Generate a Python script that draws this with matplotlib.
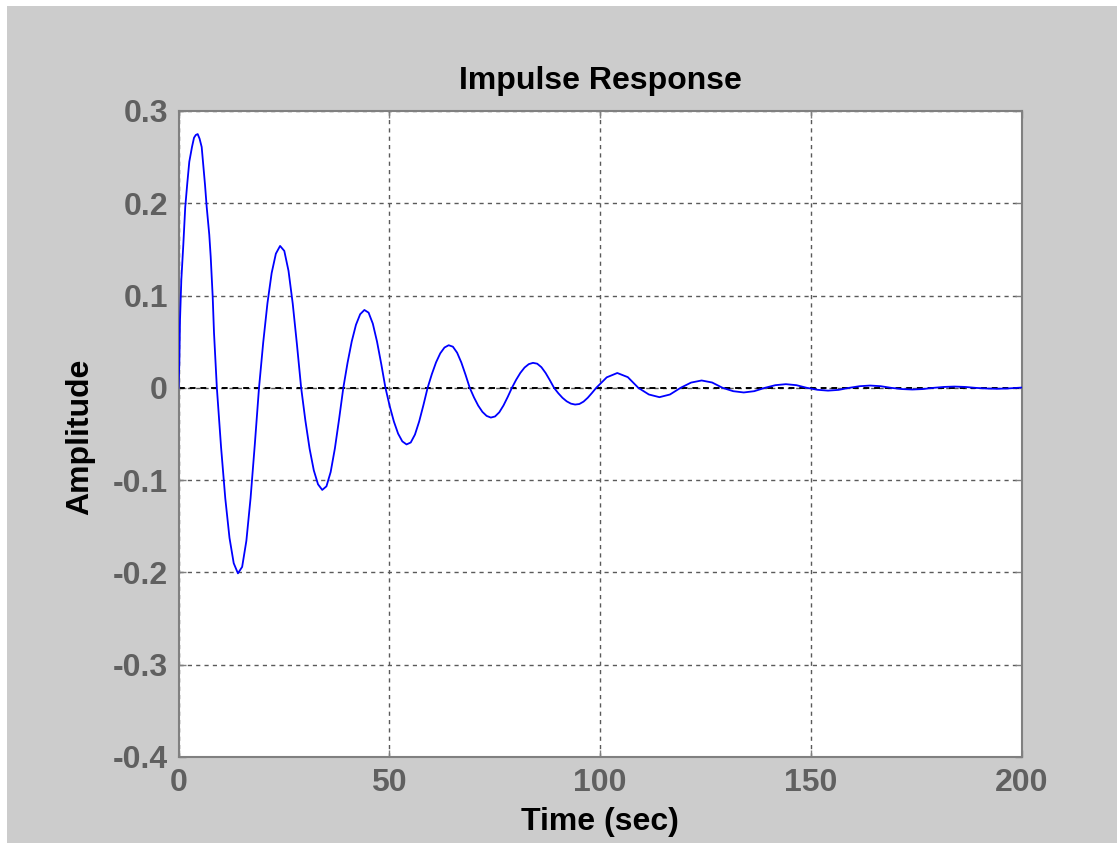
import matplotlib.pyplot as plt
from matplotlib.patches import Rectangle

# time (sec) and amplitude
time_first = [0, 0.2, 0.36, 0.67, 1.14, 1.6, 2.09, 2.56, 3.2, 3.68, 4.1, 4.55, 5.0,
              5.5, 5.88, 6.29, 6.69, 7.3, 7.64, 8.11, 8.42, 8.85]
amp_first = [0, 0.027, 0.074, 0.117, 0.155, 0.196, 0.222, 0.245, 0.261, 0.271, 0.274, 0.275, 0.270,
             0.261, 0.241, 0.220, 0.196, 0.166, 0.142, 0.099, 0.060, 0.022]

# 9.1 s to 98.1 s, one reading per second
time_mid = [9.1 + i for i in range(90)]
amp_mid = [
    0, -.0644, -.1198, -.1626, -.1900, -.2010, -.1940, -.1658, -.1194, -.0616,
    0, .0493, .0916, .1244, .1454, .1538, .1484, .1268, .0913, .0471,
    0, -.0354, -.0659, -.0894, -.1045, -.1106, -.1067, -.0912, -.0657, -.0339,
    0, .0270, .0503, .0683, .0798, .0844, .0815, .0696, .0501, .0259,
    0, -.0196, -.0365, -.0496, -.0580, -.0613, -.0592, -.0506, -.0364, -.0188,
    0, .0148, .0276, .0374, .0437, .0462, .0446, .0381, .0275, .0142,
    0, -.0103, -.0192, -.0260, -.0304, -.0322, -.0310, -.0265, -.0191, -.0099,
    0, .0087, .0162, .0220, .0257, .0271, .0262, .0224, .0161, .0083,
    0, -.0058, -.0108, -.0146, -.0171, -.0181, -.0175, -.0149, -.0107, -.0055,
]

# 99.1 s to 200 s, every 2.5 s (the tail is small)
time_tail = [99.1 + 2.5 * i for i in range(41)] + [200]
amp_tail = [
    0, .0114, .0161, .0116,
    0, -.0072, -.0101, -.0072,
    0, .0057, .0080, .0058,
    0, -.0036, -.0050, -.0036,
    0, .0029, .0040, .0029,
    0, -.0021, -.0030, -.0022,
    0, .0018, .0025, .0018,
    0, -.0013, -.0018, -.0013,
    0, .0010, .0014, .0010,
    0, -.0007, -.0010, -.0007,
    0, .0003,
]

time = time_first + time_mid + time_tail
amp = amp_first + amp_mid + amp_tail

x_ticks = [0, 50, 100, 150, 200]
y_ticks = [-0.4, -0.3, -0.2, -0.1, 0, 0.1, 0.2, 0.3]
y_tick_labels = ['-0.4', '-0.3', '-0.2', '-0.1', '0', '0.1', '0.2', '0.3']

plt.rcParams['font.family'] = ['Liberation Sans', 'DejaVu Sans']

W, H = 1117, 843
fig = plt.figure(figsize=(W / 100, H / 100), dpi=100, facecolor='#cccccc')

# thin white strips at the top and left edges of the screenshot
fig.patches.append(Rectangle((0, 1 - 6 / H), 1, 6 / H, transform=fig.transFigure,
                             facecolor='white', edgecolor='none'))
fig.patches.append(Rectangle((0, 0), 7 / W, 1, transform=fig.transFigure,
                             facecolor='white', edgecolor='none'))

ax = fig.add_axes([178.5 / W, 1 - 757 / H, 843 / W, 646 / H])
ax.set_facecolor('white')

ax.plot(time, amp, color='#0000ff', linewidth=1.3, zorder=3)
ax.axhline(0, color='black', linestyle=(0, (3, 2.5)), linewidth=1.4, zorder=2)

ax.set_xlim(0, 200)
ax.set_ylim(-0.4, 0.3)
ax.set_xticks(x_ticks)
ax.set_xticklabels([str(t) for t in x_ticks])
ax.set_yticks(y_ticks)
ax.set_yticklabels(y_tick_labels)

ax.grid(True, color='#5a5a5a', linestyle=(0, (3, 3)), linewidth=1.0, zorder=1)

for side in ['left', 'right', 'top', 'bottom']:
    ax.spines[side].set_color('#808080')
    ax.spines[side].set_linewidth(1.5)

ax.tick_params(direction='in', top=True, right=True, length=5, width=1,
               color='#808080', labelcolor='#606060', labelsize=23)
ax.tick_params(axis='x', pad=8)
ax.tick_params(axis='y', pad=7.5)
for lab in ax.get_xticklabels() + ax.get_yticklabels():
    lab.set_fontweight('bold')

ax.set_title('Impulse Response', fontsize=23, fontweight='bold', pad=16)
ax.set_xlabel('Time (sec)', fontsize=23, fontweight='bold')
ax.set_ylabel('Amplitude', fontsize=23, fontweight='bold')
ax.xaxis.set_label_coords(0.5, -0.078)
ax.yaxis.set_label_coords(-0.099, 0.495)

fig.savefig('out.png', dpi=100, facecolor=fig.get_facecolor())
